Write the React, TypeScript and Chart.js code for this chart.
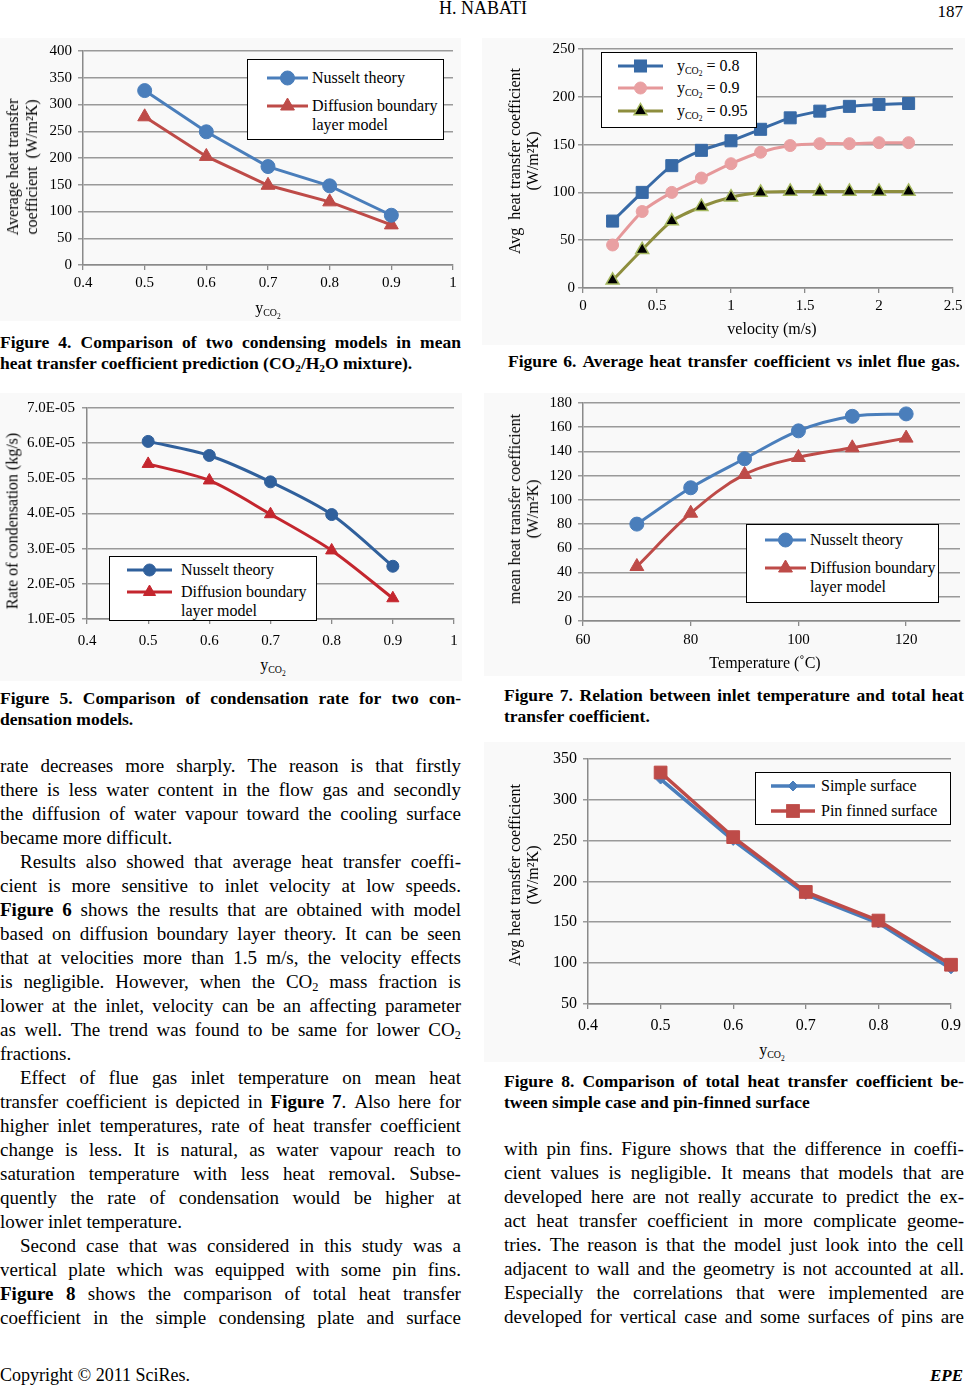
import React, { useEffect, useRef } from "react";
import { Chart, registerables } from "chart.js";
Chart.register(...registerables);

const SERIF = '"Liberation Serif", "Times New Roman", Times, serif';
const AXIS_COLOR = "#8a8a8a";
const GRID_COLOR = "#9a9a9a";

// ---------------- data ----------------
const yco2Values = [0.5, 0.6, 0.7, 0.8, 0.9];
const fig4Nusselt = [326, 249, 184, 148, 93];
const fig4Diffusion = [277, 203, 149, 118, 75];

const fig5Nusselt = [6.05e-5, 5.65e-5, 4.9e-5, 3.97e-5, 2.5e-5];
const fig5Diffusion = [5.41e-5, 4.94e-5, 3.98e-5, 2.95e-5, 1.59e-5];

const fig6Velocity = [0.2, 0.4, 0.6, 0.8, 1.0, 1.2, 1.4, 1.6, 1.8, 2.0, 2.2];
const fig6Y080 = [70, 100, 128, 144, 154, 166, 178, 185, 190, 192, 193];
const fig6Y090 = [45, 80, 100, 115, 130, 142, 149, 151, 151, 152, 152];
const fig6Y095 = [8, 40, 70, 85, 95, 100, 101, 101, 101, 101, 101];

const fig7Temperature = [70, 80, 90, 100, 110, 120];
const fig7Nusselt = [80, 110, 134, 157, 169, 171];
const fig7Diffusion = [45, 89, 121, 135, 143, 151];

const fig8Simple = [325, 250, 184, 149, 93];
const fig8Pin = [333, 254, 187, 152, 98];

// ---------------- text ----------------
const leftColumn: [string, boolean, boolean][] = [
  ["rate decreases more sharply. The reason is that firstly", true, false],
  ["there is less water content in the flow gas and secondly", true, false],
  ["the diffusion of water vapour toward the cooling surface", true, false],
  ["became more difficult.", false, false],
  ["Results also showed that average heat transfer coeffi-", true, true],
  ["cient is more sensitive to inlet velocity at low speeds.", true, false],
  ["*Figure* *6* shows the results that are obtained with model", true, false],
  ["based on diffusion boundary layer theory. It can be seen", true, false],
  ["that at velocities more than 1.5 m/s, the velocity effects", true, false],
  ["is negligible. However, when the CO_2 mass fraction is", true, false],
  ["lower at the inlet, velocity can be an affecting parameter", true, false],
  ["as well. The trend was found to be same for lower CO_2", true, false],
  ["fractions.", false, false],
  ["Effect of flue gas inlet temperature on mean heat", true, true],
  ["transfer coefficient is depicted in *Figure* *7*. Also here for", true, false],
  ["higher inlet temperatures, rate of heat transfer coefficient", true, false],
  ["change is less. It is natural, as water vapour reach to", true, false],
  ["saturation temperature with less heat removal. Subse-", true, false],
  ["quently the rate of condensation would be higher at", true, false],
  ["lower inlet temperature.", false, false],
  ["Second case that was considered in this study was a", true, true],
  ["vertical plate which was equipped with some pin fins.", true, false],
  ["*Figure* *8* shows the comparison of total heat transfer", true, false],
  ["coefficient in the simple condensing plate and surface", true, false],
];
const rightColumn = [
  "with pin fins. Figure shows that the difference in coeffi-",
  "cient values is negligible. It means that models that are",
  "developed here are not really accurate to predict the ex-",
  "act heat transfer coefficient in more complicate geome-",
  "tries. The reason is that the model just look into the cell",
  "adjacent to wall and the geometry is not accounted at all.",
  "Especially the correlations that were implemented are",
  "developed for vertical case and some surfaces of pins are",
];

// ---------------- helpers ----------------
type Series = {
  xs: number[];
  ys: number[];
  color: string;
  lw: number;
  marker: string;
  r: number;
  fill: string;
  border: string;
  bw: number;
  tension: number;
  order?: number;
};
type AxisCfg = {
  min: number;
  max: number;
  step: number;
  pad: number;
  size?: number;
  includeBounds?: boolean;
  fmt?: (v: number) => string;
};
type Plot = { l: number; t: number; r: number; b: number };

const PL = 72, PT = 14, PR = 16, PB = 36;

function ChartPanel({ plot, x, y, series }: { plot: Plot; x: AxisCfg; y: AxisCfg; series: Series[] }) {
  const ref = useRef<HTMLCanvasElement>(null);
  const w = plot.r - plot.l + PL + PR;
  const h = plot.b - plot.t + PT + PB;
  useEffect(() => {
    const chart = new Chart(ref.current as HTMLCanvasElement, {
      type: "line",
      data: {
        datasets: series.map((s) => ({
          data: s.xs.map((xv, i) => ({ x: xv, y: s.ys[i] })),
          borderColor: s.color,
          backgroundColor: s.fill,
          borderWidth: s.lw,
          pointStyle: s.marker as any,
          pointRadius: s.r,
          pointHoverRadius: s.r,
          pointBackgroundColor: s.fill,
          pointBorderColor: s.border,
          pointBorderWidth: s.bw,
          tension: s.tension,
          fill: false,
          clip: false as any,
          order: s.order ?? 0,
        })),
      },
      options: {
        animation: false,
        responsive: false,
        events: [],
        layout: { padding: { left: 0, top: PT, right: PR, bottom: 0 } },
        plugins: { legend: { display: false }, tooltip: { enabled: false } },
        scales: {
          x: {
            type: "linear",
            min: x.min,
            max: x.max,
            ticks: {
              stepSize: x.step,
              includeBounds: x.includeBounds ?? true,
              padding: x.pad,
              color: "#000",
              font: { family: SERIF, size: x.size ?? 15 },
              maxRotation: 0,
              autoSkip: false,
              callback: x.fmt ? (v: any) => x.fmt!(Number(v)) : undefined,
            },
            grid: { drawOnChartArea: false, color: AXIS_COLOR, lineWidth: 1.3, tickLength: 5 },
            border: { color: AXIS_COLOR, width: 1.5 },
            afterFit: (s: any) => {
              s.height = PB;
            },
          },
          y: {
            type: "linear",
            min: y.min,
            max: y.max,
            ticks: {
              stepSize: y.step,
              padding: y.pad,
              color: "#000",
              font: { family: SERIF, size: y.size ?? 15 },
              autoSkip: false,
              callback: y.fmt ? (v: any) => y.fmt!(Number(v)) : undefined,
            },
            grid: { color: GRID_COLOR, lineWidth: 1.5, tickLength: 5 },
            border: { color: AXIS_COLOR, width: 1.5 },
            afterFit: (s: any) => {
              s.width = PL;
            },
          },
        },
      } as any,
    });
    return () => chart.destroy();
  }, []);
  return (
    <div style={{ position: "absolute", left: plot.l - PL, top: plot.t - PT, width: w, height: h }}>
      <canvas ref={ref} width={w} height={h} style={{ width: w, height: h, display: "block" }} />
    </div>
  );
}

const SUB: React.CSSProperties = { fontSize: "0.65em", verticalAlign: "-0.25em", lineHeight: 0 };

function Yco2() {
  return (
    <span>
      y
      <span style={{ fontSize: "0.62em", verticalAlign: "-0.35em", lineHeight: 0 }}>
        CO<span style={{ fontSize: "0.75em", verticalAlign: "-0.3em", lineHeight: 0 }}>2</span>
      </span>
    </span>
  );
}

function renderToken(tok: string, key: number) {
  const parts = tok.split(/(\*[^*]+\*|_\d)/).filter((p) => p !== "");
  return (
    <span key={key}>
      {parts.map((p, i) =>
        p.startsWith("*") ? (
          <b key={i}>{p.slice(1, -1)}</b>
        ) : p.startsWith("_") ? (
          <sub key={i} style={SUB}>
            {p.slice(1)}
          </sub>
        ) : (
          <React.Fragment key={i}>{p}</React.Fragment>
        )
      )}
    </span>
  );
}

function TextLine({
  x, y, w, text, justify, indent = 0, size = 19, lh = 24, bold = false,
}: { x: number; y: number; w: number; text: string; justify: boolean; indent?: number; size?: number; lh?: number; bold?: boolean }) {
  const toks = text.split(" ");
  return (
    <div
      style={{
        position: "absolute",
        left: x + indent,
        top: y - lh / 2,
        width: w - indent,
        height: lh,
        display: "flex",
        justifyContent: justify ? "space-between" : "flex-start",
        columnGap: justify ? 0 : "0.25em",
        whiteSpace: "nowrap",
        fontFamily: SERIF,
        fontSize: size,
        lineHeight: lh + "px",
        fontWeight: bold ? 700 : 400,
        color: "#000",
      }}
    >
      {toks.map(renderToken)}
    </div>
  );
}

function Abs({ x, y, children, size = 16, align = "center", style = {} }: any) {
  const tx = align === "center" ? "-50%" : align === "right" ? "-100%" : "0";
  return (
    <div
      style={{
        position: "absolute",
        left: x,
        top: y,
        transform: `translate(${tx},-50%)`,
        whiteSpace: "nowrap",
        fontFamily: SERIF,
        fontSize: size,
        lineHeight: 1.2,
        color: "#000",
        ...style,
      }}
    >
      {children}
    </div>
  );
}

function YTitle({ cx, cy, lines, size = 16, lh = 19 }: { cx: number; cy: number; lines: string[]; size?: number; lh?: number }) {
  return (
    <div
      style={{
        position: "absolute",
        left: cx,
        top: cy,
        transform: "translate(-50%,-50%) rotate(-90deg)",
        whiteSpace: "pre",
        textAlign: "center",
        fontFamily: SERIF,
        fontSize: size,
        lineHeight: lh + "px",
        color: "#000",
      }}
    >
      {lines.map((l, i) => (
        <div key={i}>{l}</div>
      ))}
    </div>
  );
}

function MarkerSvg({ s, x1, x2, y }: { s: Series; x1: number; x2: number; y: number }) {
  const w = x2 - x1;
  const cx = w / 2, cy = 12;
  const r = s.r;
  let shape: React.ReactNode = null;
  if (s.marker === "circle") shape = <circle cx={cx} cy={cy} r={r} fill={s.fill} stroke={s.border} strokeWidth={s.bw} />;
  else if (s.marker === "triangle")
    shape = (
      <polygon
        points={`${cx},${cy - r} ${cx + r * 0.866},${cy + r * 0.5} ${cx - r * 0.866},${cy + r * 0.5}`}
        fill={s.fill}
        stroke={s.border}
        strokeWidth={s.bw}
      />
    );
  else if (s.marker === "rect") {
    const a = r * Math.SQRT1_2;
    shape = <rect x={cx - a} y={cy - a} width={2 * a} height={2 * a} fill={s.fill} stroke={s.border} strokeWidth={s.bw} />;
  } else if (s.marker === "rectRot")
    shape = <polygon points={`${cx},${cy - r} ${cx + r},${cy} ${cx},${cy + r} ${cx - r},${cy}`} fill={s.fill} stroke={s.border} strokeWidth={s.bw} />;
  return (
    <svg width={w} height={24} style={{ position: "absolute", left: x1, top: y - 12, overflow: "visible" }}>
      <line x1={0} y1={cy} x2={w} y2={cy} stroke={s.color} strokeWidth={s.lw} />
      {shape}
    </svg>
  );
}

type LegendEntry = { y: number; s: Series; label: React.ReactNode[] };
function Legend({ box, x1, x2, tx, entries, lh = 19 }: { box: { l: number; t: number; w: number; h: number }; x1: number; x2: number; tx: number; entries: LegendEntry[]; lh?: number }) {
  return (
    <>
      <div
        style={{
          position: "absolute",
          left: box.l,
          top: box.t,
          width: box.w,
          height: box.h,
          border: "1.6px solid #000",
          boxSizing: "border-box",
          background: "#fff",
        }}
      />
      {entries.map((e, i) => (
        <React.Fragment key={i}>
          <MarkerSvg s={e.s} x1={x1} x2={x2} y={e.y} />
          <div
            style={{
              position: "absolute",
              left: tx,
              top: e.y - lh / 2 - 1,
              fontFamily: SERIF,
              fontSize: 16,
              lineHeight: lh + "px",
              whiteSpace: "nowrap",
              color: "#000",
            }}
          >
            {e.label.map((l, j) => (
              <div key={j}>{l}</div>
            ))}
          </div>
        </React.Fragment>
      ))}
    </>
  );
}

function Bg({ l, t, r, b }: Plot) {
  return <div style={{ position: "absolute", left: l, top: t, width: r - l, height: b - t, background: "#f9f9f9" }} />;
}

const fmtExp = (v: number) => {
  const [m, e] = v.toExponential(1).split("e");
  const n = Math.abs(parseInt(e, 10));
  return `${m}E${e.startsWith("-") ? "-" : "+"}${n < 10 ? "0" + n : n}`;
};
const fmt1 = (v: number) => String(parseFloat(v.toFixed(1)));

// ---------------- series ----------------
const BLUE = "#4A7EBB";
const RED = "#BE4B48";
const s4N: Series = { xs: yco2Values, ys: fig4Nusselt, color: BLUE, lw: 3, marker: "circle", r: 7, fill: BLUE, border: BLUE, bw: 1, tension: 0 };
const s4D: Series = { xs: yco2Values, ys: fig4Diffusion, color: RED, lw: 3, marker: "triangle", r: 8, fill: RED, border: RED, bw: 1, tension: 0 };
const s5N: Series = { xs: yco2Values, ys: fig5Nusselt, color: "#30609C", lw: 3, marker: "circle", r: 6, fill: "#30609C", border: "#30609C", bw: 1, tension: 0.3 };
const s5D: Series = { xs: yco2Values, ys: fig5Diffusion, color: "#C4262E", lw: 3, marker: "triangle", r: 7, fill: "#C4262E", border: "#C4262E", bw: 1, tension: 0.3 };
const s6a: Series = { xs: fig6Velocity, ys: fig6Y080, color: "#386AA6", lw: 3, marker: "rect", r: 8.5, fill: "#386AA6", border: "#386AA6", bw: 1, tension: 0.25 };
const s6b: Series = { xs: fig6Velocity, ys: fig6Y090, color: "#E6989A", lw: 3, marker: "circle", r: 6, fill: "#E9A0A2", border: "#E9A0A2", bw: 1, tension: 0.25 };
const s6c: Series = { xs: fig6Velocity, ys: fig6Y095, color: "#8E8E3E", lw: 3, marker: "triangle", r: 7.5, fill: "#000", border: "#A5B85F", bw: 1.5, tension: 0.25 };
const s7N: Series = { xs: fig7Temperature, ys: fig7Nusselt, color: BLUE, lw: 3, marker: "circle", r: 7, fill: BLUE, border: BLUE, bw: 1, tension: 0.35 };
const s7D: Series = { xs: fig7Temperature, ys: fig7Diffusion, color: RED, lw: 3, marker: "triangle", r: 8, fill: RED, border: RED, bw: 1, tension: 0.35 };
const s8S: Series = { xs: yco2Values, ys: fig8Simple, color: BLUE, lw: 3.5, marker: "rectRot", r: 5, fill: BLUE, border: BLUE, bw: 1, tension: 0, order: 1 };
const s8P: Series = { xs: yco2Values, ys: fig8Pin, color: RED, lw: 3.5, marker: "rect", r: 9, fill: RED, border: RED, bw: 1, tension: 0, order: 0 };

const CAP = 17.5;

export default function App() {
  return (
    <div
      style={{
        position: "absolute",
        left: 0,
        top: 0,
        width: 965,
        height: 1386,
        overflow: "hidden",
        background: "#fff",
        fontFamily: SERIF,
      }}
    >
      {/* header */}
      <Abs x={483} y={9} size={18}>H. NABATI</Abs>
      <Abs x={963} y={12} size={17} align="right">187</Abs>

      {/* figure backgrounds */}
      <Bg l={0} t={38} r={461} b={321} />
      <Bg l={482} t={38} r={965} b={345} />
      <Bg l={0} t={393} r={462} b={681} />
      <Bg l={484} t={393} r={965} b={676} />
      <Bg l={484} t={742} r={965} b={1062} />

      {/* Figure 4 */}
      <ChartPanel
        plot={{ l: 83, t: 50, r: 453, b: 265 }}
        x={{ min: 0.4, max: 1, step: 0.1, pad: 4, fmt: fmt1 }}
        y={{ min: 0, max: 400, step: 50, pad: 6 }}
        series={[s4N, s4D]}
      />
      <YTitle cx={22} cy={167} lines={["Average heat transfer", "coefficient\u00a0 (W/m²K)"]} />
      <Abs x={268} y={308} size={16}><Yco2 /></Abs>
      <Legend
        box={{ l: 247, t: 59, w: 197, h: 81 }}
        x1={267}
        x2={308}
        tx={312}
        entries={[
          { y: 78, s: s4N, label: ["Nusselt theory"] },
          { y: 106, s: s4D, label: ["Diffusion boundary", "layer model"] },
        ]}
      />

      {/* Figure 6 */}
      <ChartPanel
        plot={{ l: 583, t: 49, r: 953, b: 288 }}
        x={{ min: 0, max: 2.5, step: 0.5, pad: 4, fmt: fmt1 }}
        y={{ min: 0, max: 250, step: 50, pad: 3 }}
        series={[s6a, s6b, s6c]}
      />
      <YTitle cx={524} cy={161} lines={["Avg\u00a0 heat transfer coefficient", "(W/m²K)"]} lh={18} />
      <Abs x={772} y={329} size={16}>velocity (m/s)</Abs>
      <Legend
        box={{ l: 601, t: 52, w: 156, h: 76 }}
        x1={618}
        x2={663}
        tx={677}
        entries={[
          { y: 66, s: s6a, label: [<span key="a"><Yco2 /> = 0.8</span>] },
          { y: 88, s: s6b, label: [<span key="b"><Yco2 /> = 0.9</span>] },
          { y: 111, s: s6c, label: [<span key="c"><Yco2 /> = 0.95</span>] },
        ]}
      />

      {/* captions row 1 */}
      <TextLine x={0} y={342} w={461} text="Figure 4. Comparison of two condensing models in mean" justify size={CAP} lh={21} bold />
      <TextLine x={0} y={363} w={461} text="heat transfer coefficient prediction (CO_2/H_2O mixture)." justify={false} size={CAP} lh={21} bold />
      <TextLine x={508} y={361} w={452} text="Figure 6. Average heat transfer coefficient vs inlet flue gas." justify size={CAP} lh={21} bold />

      {/* Figure 5 */}
      <ChartPanel
        plot={{ l: 87, t: 406, r: 454, b: 619 }}
        x={{ min: 0.4, max: 1, step: 0.1, pad: 8, fmt: fmt1 }}
        y={{ min: 1e-5, max: 7e-5, step: 1e-5, pad: 7, fmt: fmtExp }}
        series={[s5N, s5D]}
      />
      <YTitle cx={12} cy={521} lines={["Rate of condensation (kg/s)"]} />
      <Abs x={273} y={665} size={16}><Yco2 /></Abs>
      <Legend
        box={{ l: 109, t: 556, w: 208, h: 65 }}
        x1={127}
        x2={172}
        tx={181}
        lh={19}
        entries={[
          { y: 570, s: s5N, label: ["Nusselt theory"] },
          { y: 592, s: s5D, label: ["Diffusion boundary", "layer model"] },
        ]}
      />

      {/* Figure 7 */}
      <ChartPanel
        plot={{ l: 583, t: 402, r: 960, b: 621 }}
        x={{ min: 60, max: 130, step: 20, pad: 5, includeBounds: false }}
        y={{ min: 0, max: 180, step: 20, pad: 6 }}
        series={[s7N, s7D]}
      />
      <YTitle cx={524} cy={509} lines={["mean heat transfer coefficient", "(W/m²K)"]} lh={18} />
      <Abs x={765} y={663} size={16}>Temperature (˚C)</Abs>
      <Legend
        box={{ l: 746, t: 524, w: 193, h: 79 }}
        x1={765}
        x2={806}
        tx={810}
        entries={[
          { y: 540, s: s7N, label: ["Nusselt theory"] },
          { y: 568, s: s7D, label: ["Diffusion boundary", "layer model"] },
        ]}
      />

      {/* captions row 2 */}
      <TextLine x={0} y={698} w={461} text="Figure 5. Comparison of condensation rate for two con-" justify size={CAP} lh={21} bold />
      <TextLine x={0} y={719} w={461} text="densation models." justify={false} size={CAP} lh={21} bold />
      <TextLine x={504} y={695} w={460} text="Figure 7. Relation between inlet temperature and total heat" justify size={CAP} lh={21} bold />
      <TextLine x={504} y={716} w={460} text="transfer coefficient." justify={false} size={CAP} lh={21} bold />

      {/* Figure 8 */}
      <ChartPanel
        plot={{ l: 588, t: 757, r: 952, b: 1004 }}
        x={{ min: 0.4, max: 0.9, step: 0.1, pad: 7, size: 16, fmt: fmt1 }}
        y={{ min: 50, max: 350, step: 50, pad: 6, size: 16 }}
        series={[s8S, s8P]}
      />
      <YTitle cx={524} cy={875} lines={["Avg heat transfer coefficient", "(W/m²K)"]} lh={18} />
      <Abs x={772} y={1050} size={16}><Yco2 /></Abs>
      <Legend
        box={{ l: 755, t: 772, w: 196, h: 53 }}
        x1={771}
        x2={815}
        tx={821}
        entries={[
          { y: 786, s: s8S, label: ["Simple surface"] },
          { y: 811, s: s8P, label: ["Pin finned surface"] },
        ]}
      />
      <TextLine x={504} y={1081} w={460} text="Figure 8. Comparison of total heat transfer coefficient be-" justify size={CAP} lh={21} bold />
      <TextLine x={504} y={1102} w={460} text="tween simple case and pin-finned surface" justify={false} size={CAP} lh={21} bold />

      {/* body text */}
      {leftColumn.map(([t, j, ind], i) => (
        <TextLine key={"l" + i} x={0} y={766 + i * 24} w={461} text={t} justify={j} indent={ind ? 20 : 0} />
      ))}
      {rightColumn.map((t, i) => (
        <TextLine key={"r" + i} x={504} y={1149 + i * 24} w={460} text={t} justify />
      ))}

      {/* footer */}
      <Abs x={0} y={1376} size={18} align="left">Copyright © 2011 SciRes.</Abs>
      <Abs x={963} y={1376} size={17} align="right" style={{ fontWeight: 700, fontStyle: "italic" }}>EPE</Abs>
    </div>
  );
}
